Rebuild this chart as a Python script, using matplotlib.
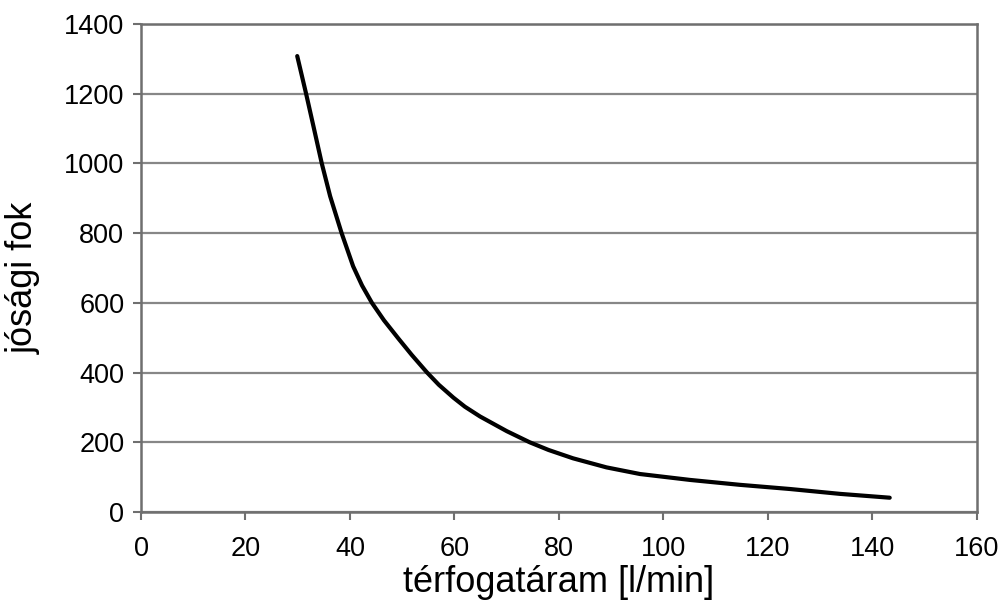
import matplotlib
matplotlib.use('Agg')
from matplotlib import pyplot as plt

# values
flow = [29.9, 31.6, 33.0, 34.6, 36.2, 38.4, 40.6, 42.3, 44.2, 46.5,
        49.3, 51.8, 54.7, 57.0, 59.8, 62.0, 64.9, 70.0, 74.4, 78.0,
        82.7, 89.1, 95.5, 105.1, 114.6, 124.2, 133.8, 143.3]
quality = [1308, 1200, 1107, 1000, 906, 800, 705, 650, 600, 550,
           497, 451, 401, 365, 328, 302, 274, 232, 200, 178,
           154, 128, 109, 92, 78, 66, 52, 41]

x_ticks = [0, 20, 40, 60, 80, 100, 120, 140, 160]
y_ticks = [0, 200, 400, 600, 800, 1000, 1200, 1400]

plt.rcParams['font.family'] = ['Liberation Sans', 'DejaVu Sans']

fig = plt.figure(figsize=(10.05, 6.03), dpi=100)
ax = fig.add_axes([0.1403, 0.1509, 0.8318, 0.8093])

ax.plot(flow, quality, color='black', linewidth=3.0,
        solid_capstyle='round', solid_joinstyle='round')

ax.set_xlim(0, 160)
ax.set_ylim(0, 1400)
ax.set_xticks(x_ticks)
ax.set_yticks(y_ticks)
ax.yaxis.grid(True, color='#878787', linewidth=1.6)
ax.set_axisbelow(True)

for s in ax.spines.values():
    s.set_color('#6f6f6f')
    s.set_linewidth(1.8)

ax.tick_params(axis='both', direction='out', color='#6f6f6f', width=1.5,
               length=6, labelsize=19.5, labelcolor='black')
ax.tick_params(axis='x', pad=11.5)
ax.tick_params(axis='y', pad=6)

ax.set_xlabel('térfogatáram [l/min]', fontsize=26)
ax.xaxis.label.set_va('baseline')
ax.xaxis.set_label_coords(0.5, -0.164)

ax.set_ylabel('jósági fok', fontsize=26)
ax.yaxis.label.set_va('baseline')
ax.yaxis.set_label_coords(-0.129, 0.48)

fig.savefig('out.png', dpi=100)
